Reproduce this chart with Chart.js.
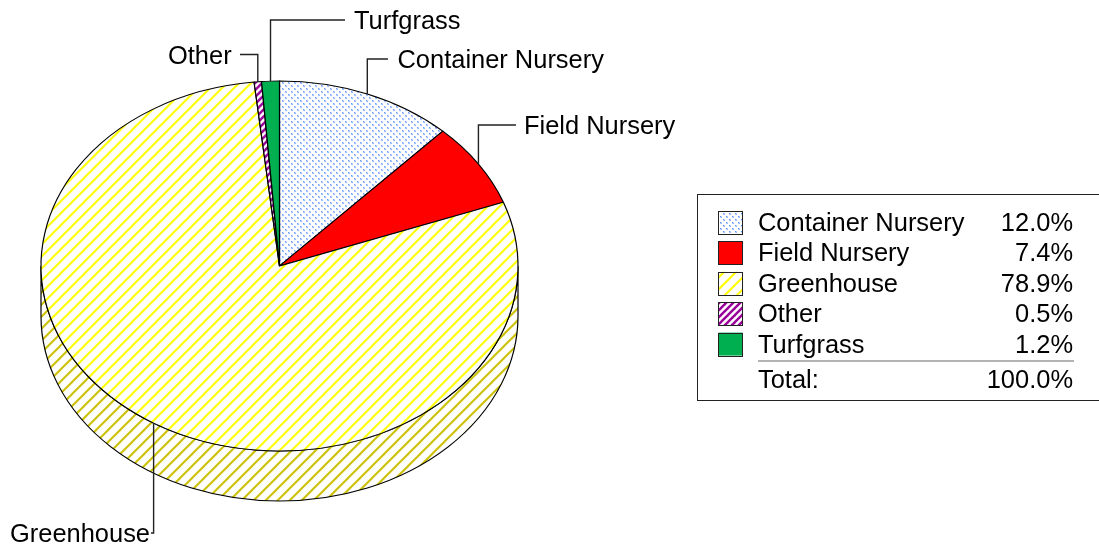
<!DOCTYPE html>
<html>
<head>
<meta charset="utf-8">
<style>
  html, body { margin: 0; padding: 0; background: #fff; overflow: hidden; }
  canvas { display: block; }
</style>
<script src="https://cdn.jsdelivr.net/npm/chart.js@4"></script>
</head>
<body>
<canvas id="pieChart" width="1099" height="546"></canvas>
<script>
// Datos
const categories = ["Container Nursery", "Field Nursery", "Greenhouse", "Other", "Turfgrass"];
const shares = [12.0, 7.4, 78.9, 0.5, 1.2];
const totalLabel = "Total:";
const totalValue = "100.0%";

// Leader lines, same order as categories: elbow height, end of the line, text position
const leaders = [
    { elbowY: 59, endX: 388, textX: 397.5, textY: 61 },
    { elbowY: 125, endX: 516, textX: 524, textY: 127 },
    { elbowY: 533, endX: 151, textX: 10, textY: 535 },
    { elbowY: 54.5, endX: 240, textX: 168, textY: 56.5 },
    { elbowY: 20, endX: 345, textX: 354, textY: 22 }
];

const FONT = '25.45px "Liberation Sans", Arial, sans-serif';
const PIE_X = 279.5, PIE_Y = 266, RX = 238.5, RY = 185, DEPTH = 50;
const SQUASH = RY / RX;

function stripes(color, period, width) {
    const c = document.createElement('canvas');
    c.width = c.height = period;
    const g = c.getContext('2d');
    g.fillStyle = '#fff';
    g.fillRect(0, 0, period, period);
    g.strokeStyle = color;
    g.lineWidth = width;
    for (let k = -1; k <= 1; k++) {
        g.beginPath();
        g.moveTo(k * period - 2, period + 2);
        g.lineTo(k * period + period + 2, -2);
        g.stroke();
    }
    return c;
}

function dots() {
    const c = document.createElement('canvas');
    c.width = c.height = 6;
    const g = c.getContext('2d');
    g.fillStyle = '#fff';
    g.fillRect(0, 0, 6, 6);
    [[0, 0, '#5c90ff'], [1, 1, '#8fb5ff'], [3, 3, '#5c90ff'], [4, 4, '#8fb5ff'], [1, 0, '#bcd3ff'], [4, 3, '#bcd3ff'], [0, 1, '#bcd3ff'], [3, 4, '#bcd3ff']].forEach(d => {
        g.fillStyle = d[2];
        g.fillRect(d[0], d[1], 1, 1);
    });
    return c;
}

const ctx = document.getElementById('pieChart').getContext('2d');

// Plain pattern for the legend, corrected pattern for the squashed pie
function flatPattern(tile) {
    return ctx.createPattern(tile, 'repeat');
}
function piePattern(tile) {
    const p = ctx.createPattern(tile, 'repeat');
    p.setTransform(new DOMMatrix().scale(1, 1 / SQUASH));
    return p;
}

const tiles = [dots(), null, stripes('#ffff00', 12, 2), stripes('#990099', 7, 2.4), null];
const solid = [null, '#ff0000', null, null, '#00b050'];
const sliceFill = tiles.map((t, i) => t ? piePattern(t) : solid[i]);
const swatchFill = tiles.map((t, i) => t ? flatPattern(t) : solid[i]);
const wallFill = piePattern(stripes('#cbc000', 12, 2));

const squashPie = {
    id: 'squashPie',
    beforeDatasetsDraw(chart) {
        const c = chart.ctx;
        const first = chart.getDatasetMeta(0).data[0];
        const { x, y, outerRadius } = first.getProps(['x', 'y', 'outerRadius'], true);
        c.save();
        c.translate(PIE_X, PIE_Y);
        c.scale(1, SQUASH);
        c.translate(-x, -y);

        // pared lateral del pastel
        c.beginPath();
        c.arc(x, y, outerRadius, 0, Math.PI);
        c.arc(x, y + DEPTH / SQUASH, outerRadius, Math.PI, 0, true);
        c.closePath();
        c.fillStyle = wallFill;
        c.fill();
        c.strokeStyle = '#000';
        c.lineWidth = 1.2;
        c.stroke();
    },
    afterDatasetsDraw(chart) {
        const c = chart.ctx;
        c.restore();
        drawLeaders(chart, c);
        drawLegendBox(c);
    }
};

function drawLeaders(chart, c) {
    const arcs = chart.getDatasetMeta(0).data;
    c.font = FONT;
    c.textBaseline = 'middle';
    c.textAlign = 'left';
    categories.forEach((name, i) => {
        const a = arcs[i].getProps(['startAngle', 'endAngle', 'outerRadius'], true);
        const mid = (a.startAngle + a.endAngle) / 2;
        const ax = PIE_X + a.outerRadius * Math.cos(mid);
        const ay = PIE_Y + a.outerRadius * SQUASH * Math.sin(mid);
        const l = leaders[i];
        c.beginPath();
        c.moveTo(ax, ay);
        c.lineTo(ax, l.elbowY);
        c.lineTo(l.endX, l.elbowY);
        c.strokeStyle = '#222';
        c.lineWidth = 1.4;
        c.stroke();
        c.fillStyle = '#000';
        c.fillText(name, l.textX, l.textY);
    });
}

function drawLegendBox(c) {
    c.strokeStyle = '#222';
    c.lineWidth = 1;
    c.strokeRect(697.5, 194.5, 420, 206);

    c.font = FONT;
    c.textBaseline = 'middle';
    categories.forEach((name, i) => {
        const rowY = 222 + i * 30.4;
        c.fillStyle = swatchFill[i];
        c.fillRect(718.5, rowY - 11, 24, 23);
        c.strokeStyle = '#222';
        c.lineWidth = 1;
        c.strokeRect(718.5, Math.round(rowY - 11) + 0.5, 24, 23);
        c.fillStyle = '#000';
        c.textAlign = 'left';
        c.fillText(name, 758, rowY + 2);
        c.textAlign = 'right';
        c.fillText(shares[i].toFixed(1) + '%', 1073, rowY + 2);
    });

    c.strokeStyle = '#666';
    c.beginPath();
    c.moveTo(758, 361);
    c.lineTo(1074, 361);
    c.stroke();

    c.fillStyle = '#000';
    c.textAlign = 'left';
    c.fillText(totalLabel, 758, 381);
    c.textAlign = 'right';
    c.fillText(totalValue, 1073, 381);
}

new Chart(ctx, {
    type: 'pie',
    data: {
        labels: categories,
        datasets: [{
            data: shares,
            backgroundColor: sliceFill,
            borderColor: '#000',
            borderWidth: 1.2,
            hoverOffset: 0,
            borderJoinStyle: 'miter'
        }]
    },
    options: {
        responsive: false,
        animation: false,
        devicePixelRatio: 1,
        layout: { padding: { left: 30, right: 570, top: 20, bottom: 30 } },
        radius: RX,
        plugins: { legend: { display: false }, tooltip: { enabled: false } },
        events: []
    },
    plugins: [squashPie]
});
</script>
</body>
</html>
